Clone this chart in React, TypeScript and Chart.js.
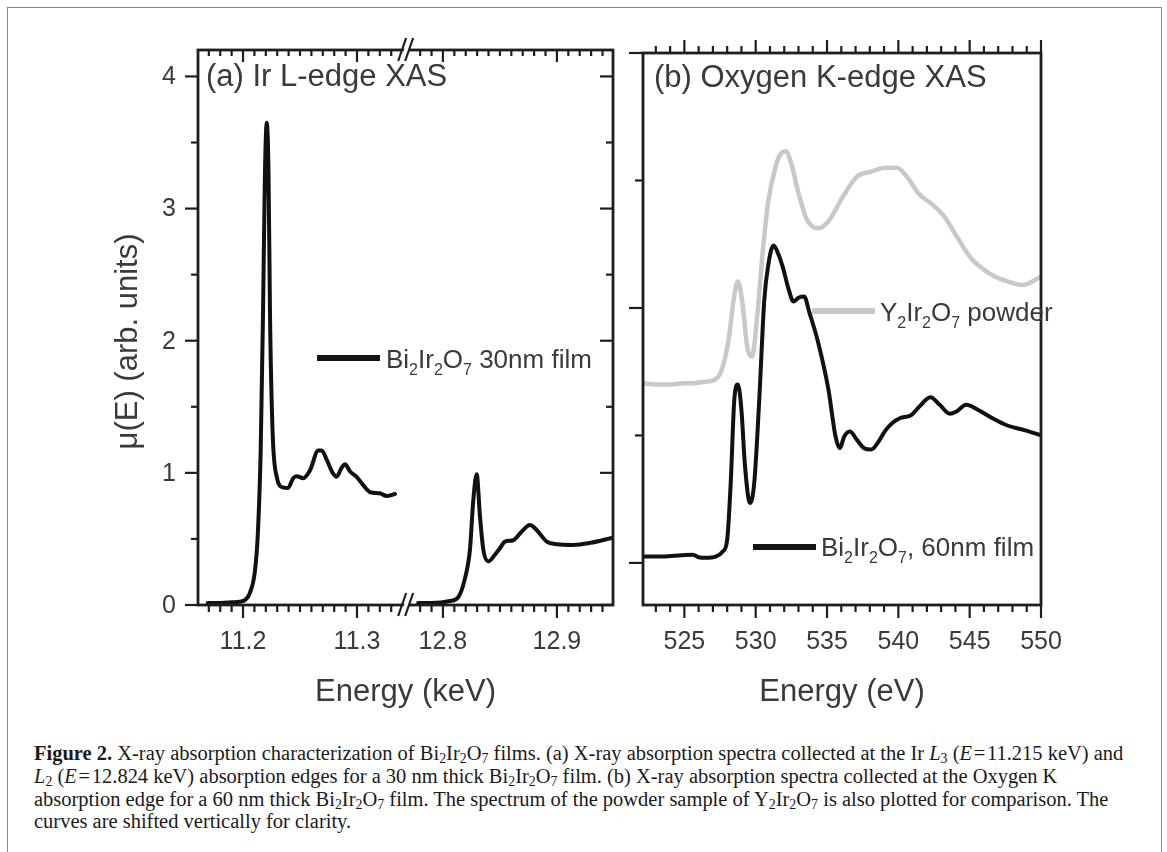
import React, { useEffect, useRef } from 'react';
import { Chart, registerables } from 'chart.js';

Chart.register(...registerables);

// ---------- Data ----------
// Panel (a): Ir L3 edge region (keV) and L2 edge region (keV), Bi2Ir2O7 30nm film
const l3Energy = [11.1690, 11.180, 11.190, 11.197, 11.202, 11.206, 11.2105, 11.213, 11.2155, 11.2175, 11.2192, 11.2208, 11.2224, 11.2237, 11.226, 11.2296, 11.235, 11.2395, 11.244, 11.247, 11.2528, 11.2588, 11.266, 11.269, 11.2734, 11.278, 11.282, 11.2866, 11.2895, 11.294, 11.2997, 11.3056, 11.3114, 11.320, 11.326, 11.3333];
const l3Mu = [0.015, 0.015, 0.02, 0.025, 0.04, 0.09, 0.26, 0.54, 1.17, 2.18, 3.25, 3.65, 3.25, 2.18, 1.30, 0.97, 0.89, 0.885, 0.96, 0.975, 0.96, 1.02, 1.17, 1.17, 1.10, 1.01, 0.97, 1.04, 1.065, 1.01, 0.97, 0.905, 0.855, 0.845, 0.825, 0.84];
const l2Energy = [12.7783, 12.790, 12.806, 12.8135, 12.819, 12.8237, 12.8266, 12.8296, 12.8325, 12.8354, 12.8398, 12.8456, 12.850, 12.8544, 12.8617, 12.869, 12.8763, 12.882, 12.891, 12.8997, 12.914, 12.929, 12.9492];
const l2Mu = [0.015, 0.015, 0.03, 0.06, 0.19, 0.42, 0.79, 0.99, 0.67, 0.42, 0.33, 0.38, 0.43, 0.48, 0.49, 0.555, 0.605, 0.57, 0.48, 0.46, 0.455, 0.47, 0.51];

// Panel (b): Oxygen K edge (eV), arbitrary shifted units
const filmEnergy = [522.1, 523.5, 524.8, 525.6, 526.0, 526.5, 527.2, 527.7, 528.0, 528.25, 528.5, 528.75, 529.0, 529.25, 529.6, 529.9, 530.25, 530.6, 530.9, 531.25, 531.6, 531.9, 532.3, 532.65, 533.0, 533.4, 533.75, 534.4, 535.1, 535.6, 535.9, 536.2, 536.6, 537.1, 537.6, 538.1, 538.6, 539.1, 539.6, 540.1, 540.9, 541.5, 542.25, 542.9, 543.6, 544.1, 544.75, 545.6, 546.6, 547.6, 548.9, 550.0];
const filmMu = [0.05, 0.05, 0.06, 0.065, 0.045, 0.04, 0.05, 0.09, 0.18, 0.63, 1.28, 1.40, 1.20, 0.76, 0.47, 0.63, 1.28, 2.06, 2.35, 2.49, 2.42, 2.32, 2.15, 2.05, 2.08, 2.09, 1.97, 1.72, 1.36, 0.99, 0.90, 0.99, 1.03, 0.965, 0.90, 0.89, 0.95, 1.04, 1.10, 1.135, 1.16, 1.23, 1.30, 1.24, 1.17, 1.19, 1.24, 1.20, 1.135, 1.08, 1.04, 1.0];
const powderEnergy = [522.1, 523.0, 524.1, 525.0, 525.6, 526.3, 527.1, 527.6, 528.1, 528.45, 528.75, 529.1, 529.4, 529.75, 530.1, 530.5, 530.9, 531.4, 531.7, 532.1, 532.5, 533.0, 533.6, 534.4, 535.1, 536.1, 537.1, 538.1, 539.1, 539.9, 540.6, 541.4, 542.4, 543.2, 544.1, 545.1, 546.4, 547.6, 548.7, 550.0];
const powderMu = [1.41, 1.40, 1.40, 1.41, 1.41, 1.42, 1.435, 1.51, 1.75, 2.06, 2.21, 2.01, 1.70, 1.62, 1.93, 2.45, 2.85, 3.11, 3.20, 3.23, 3.13, 2.90, 2.69, 2.625, 2.68, 2.87, 3.03, 3.07, 3.10, 3.10, 3.03, 2.90, 2.81, 2.72, 2.56, 2.39, 2.27, 2.21, 2.18, 2.245];

// Tick labels
const keVTicks = [11.2, 11.3, 12.8, 12.9];
const muTicks = [0, 1, 2, 3, 4];
const eVTicks = [525, 530, 535, 540, 545, 550];

// Broken axis for panel (a)
const BREAK_LO = 11.344;
const BREAK_HI = 12.7686;
const GAP = BREAK_HI - BREAK_LO;
const toAxis = (e: number) => (e > (BREAK_LO + BREAK_HI) / 2 ? e - GAP : e);

const FONT = '"Liberation Sans", Arial, Helvetica, sans-serif';
const TEXT = '#3a3a3a';
const AXIS = '#1e1e1e';

type Part = [string, boolean];
function drawRich(ctx: CanvasRenderingContext2D, parts: Part[], x: number, y: number, size: number) {
  let cx = x;
  ctx.textAlign = 'left';
  ctx.textBaseline = 'alphabetic';
  for (const [t, sub] of parts) {
    ctx.font = `${sub ? Math.round(size * 0.62) : size}px ${FONT}`;
    ctx.fillText(t, cx, sub ? y + size * 0.25 : y);
    cx += ctx.measureText(t).width;
  }
}

function seg(ctx: CanvasRenderingContext2D, x1: number, y1: number, x2: number, y2: number) {
  ctx.beginPath();
  ctx.moveTo(x1, y1);
  ctx.lineTo(x2, y2);
  ctx.stroke();
}

function drawBreak(ctx: CanvasRenderingContext2D, bx: number, y: number) {
  ctx.save();
  ctx.fillStyle = '#ffffff';
  ctx.beginPath();
  ctx.moveTo(bx - 7, y + 11);
  ctx.lineTo(bx + 1, y - 12);
  ctx.lineTo(bx + 6, y - 12);
  ctx.lineTo(bx - 2, y + 11);
  ctx.closePath();
  ctx.fill();
  ctx.strokeStyle = AXIS;
  ctx.lineWidth = 2.2;
  seg(ctx, bx - 9, y + 11, bx - 1, y - 12);
  seg(ctx, bx - 2, y + 11, bx + 6, y - 12);
  ctx.restore();
}

const panelAPlugin = {
  id: 'panelA',
  afterDatasetsDraw(chart: any) {
    const ctx: CanvasRenderingContext2D = chart.ctx;
    const xs = chart.scales.x;
    const ys = chart.scales.y;
    const { left, right, top, bottom } = chart.chartArea;
    ctx.save();
    ctx.strokeStyle = AXIS;
    ctx.lineWidth = 2.8;
    ctx.strokeRect(left, top, right - left, bottom - top);
    ctx.lineWidth = 2.2;
    // x ticks (minor every 0.01 keV, major every 0.1 keV)
    const segs: [number, number][] = [[11.17, 11.33], [12.78, 12.94]];
    for (const [a, b] of segs) {
      const n = Math.round((b - a) / 0.01);
      for (let i = 0; i <= n; i++) {
        const e = a + i * 0.01;
        const major = Math.abs(e * 10 - Math.round(e * 10)) < 1e-6;
        const px = xs.getPixelForValue(toAxis(e));
        seg(ctx, px, bottom, px, bottom + (major ? 13 : 7));
        seg(ctx, px, top, px, top + (major ? 12 : 6));
      }
    }
    // y ticks
    for (let v = 0; v <= 4.0001; v += 0.5) {
      const major = Math.abs(v - Math.round(v)) < 1e-6;
      const py = ys.getPixelForValue(v);
      const len = major ? 13 : 7;
      seg(ctx, left - len, py, left, py);
      seg(ctx, right - len, py, right, py);
    }
    // break marks
    const bx = xs.getPixelForValue(BREAK_LO);
    drawBreak(ctx, bx, top);
    drawBreak(ctx, bx, bottom);

    // tick labels
    ctx.fillStyle = TEXT;
    ctx.font = `25px ${FONT}`;
    ctx.textAlign = 'center';
    ctx.textBaseline = 'alphabetic';
    for (const t of keVTicks) {
      ctx.fillText(t.toFixed(1), xs.getPixelForValue(toAxis(t)), 649);
    }
    ctx.textAlign = 'right';
    ctx.textBaseline = 'middle';
    for (const t of muTicks) {
      ctx.fillText(String(t), left - 22, ys.getPixelForValue(t) + 1);
    }
    // axis titles
    ctx.font = `31px ${FONT}`;
    ctx.textAlign = 'center';
    ctx.textBaseline = 'alphabetic';
    ctx.fillText('Energy (keV)', (left + right) / 2, 701);
    ctx.save();
    ctx.translate(137, (top + bottom) / 2 + 14);
    ctx.rotate(-Math.PI / 2);
    ctx.textBaseline = 'alphabetic';
    ctx.fillText('\u03BC(E) (arb. units)', 0, 0);
    ctx.restore();
    // panel label
    ctx.textAlign = 'left';
    ctx.fillText('(a) Ir L-edge XAS', left + 8, 86);
    // legend
    ctx.strokeStyle = '#141414';
    ctx.lineWidth = 6;
    seg(ctx, 317, 358, 380, 358);
    ctx.fillStyle = TEXT;
    drawRich(ctx, [['Bi', false], ['2', true], ['Ir', false], ['2', true], ['O', false], ['7', true], [' 30nm film', false]], 386, 368, 26);
    ctx.restore();
  },
};

const panelBPlugin = {
  id: 'panelB',
  afterDatasetsDraw(chart: any) {
    const ctx: CanvasRenderingContext2D = chart.ctx;
    const xs = chart.scales.x;
    const ys = chart.scales.y;
    const { left, right, top, bottom } = chart.chartArea;
    ctx.save();
    ctx.strokeStyle = AXIS;
    ctx.lineWidth = 2.8;
    ctx.strokeRect(left, top, right - left, bottom - top);
    ctx.lineWidth = 2.2;
    for (let e = 523; e <= 550; e++) {
      const major = e % 5 === 0;
      const px = xs.getPixelForValue(e);
      const len = major ? 13 : 7;
      seg(ctx, px, bottom, px, bottom + len);
      seg(ctx, px, top, px, top - len);
    }
    for (let v = 0; v <= 4; v++) {
      const major = v % 2 === 0;
      const py = ys.getPixelForValue(v);
      seg(ctx, left - (major ? 14 : 8), py, left, py);
    }
    ctx.fillStyle = TEXT;
    ctx.font = `25px ${FONT}`;
    ctx.textAlign = 'center';
    ctx.textBaseline = 'alphabetic';
    for (const t of eVTicks) {
      ctx.fillText(String(t), xs.getPixelForValue(t), 649);
    }
    ctx.font = `31px ${FONT}`;
    ctx.fillText('Energy (eV)', (left + right) / 2, 701);
    ctx.textAlign = 'left';
    ctx.fillText('(b) Oxygen K-edge XAS', left + 11, 87);
    // legends (canvas B is offset by 620px)
    const ox = 620;
    ctx.lineWidth = 6;
    ctx.strokeStyle = '#c8c8c8';
    seg(ctx, 812 - ox, 311, 875 - ox, 311);
    ctx.fillStyle = TEXT;
    drawRich(ctx, [['Y', false], ['2', true], ['Ir', false], ['2', true], ['O', false], ['7', true], [' powder', false]], 880 - ox, 321, 26);
    ctx.strokeStyle = '#141414';
    seg(ctx, 753 - ox, 547, 816 - ox, 547);
    drawRich(ctx, [['Bi', false], ['2', true], ['Ir', false], ['2', true], ['O', false], ['7', true], [', 60nm film', false]], 821 - ox, 556, 26);
    ctx.restore();
  },
};

const baseOptions = (pad: any, xmin: number, xmax: number, ymin: number, ymax: number) => ({
  animation: false as const,
  responsive: false,
  devicePixelRatio: 1,
  events: [] as any[],
  layout: { padding: pad },
  plugins: { legend: { display: false }, tooltip: { enabled: false }, title: { display: false } },
  scales: {
    x: { type: 'linear' as const, display: false, min: xmin, max: xmax },
    y: { type: 'linear' as const, display: false, min: ymin, max: ymax },
  },
});

const lineDs = (pts: { x: number; y: number }[], color: string, width: number) => ({
  data: pts,
  borderColor: color,
  borderWidth: width,
  pointRadius: 0,
  fill: false,
  cubicInterpolationMode: 'monotone' as const,
  borderJoinStyle: 'round' as const,
  borderCapStyle: 'round' as const,
});

export default function App() {
  const refA = useRef<HTMLCanvasElement>(null);
  const refB = useRef<HTMLCanvasElement>(null);
  const capRef = useRef<HTMLDivElement>(null);
  const line1Ref = useRef<HTMLDivElement>(null);

  useEffect(() => {
    const l3Pts = l3Energy.map((e, i) => ({ x: toAxis(e), y: l3Mu[i] }));
    const l2Pts = l2Energy.map((e, i) => ({ x: toAxis(e), y: l2Mu[i] }));
    const chartA = new Chart(refA.current as HTMLCanvasElement, {
      type: 'line',
      data: { datasets: [lineDs(l3Pts, '#111111', 4), lineDs(l2Pts, '#111111', 4)] as any },
      options: baseOptions({ left: 198, top: 50, right: 17, bottom: 115 }, 11.1605, toAxis(12.9492), 0, 4.2) as any,
      plugins: [panelAPlugin],
    });
    const filmPts = filmEnergy.map((e, i) => ({ x: e, y: filmMu[i] }));
    const powderPts = powderEnergy.map((e, i) => ({ x: e, y: powderMu[i] }));
    const chartB = new Chart(refB.current as HTMLCanvasElement, {
      type: 'line',
      data: { datasets: [lineDs(powderPts, '#c8c8c8', 4.5), lineDs(filmPts, '#111111', 4)] as any },
      options: baseOptions({ left: 23, top: 53, right: 126, bottom: 115 }, 522.1, 550, -0.33, 4) as any,
      plugins: [panelBPlugin],
    });
    // fit caption width to the reference
    if (capRef.current && line1Ref.current) {
      const w = line1Ref.current.scrollWidth;
      const s = 1089 / w;
      capRef.current.style.transform = `scaleX(${s})`;
    }
    return () => {
      chartA.destroy();
      chartB.destroy();
    };
  }, []);

  const serif = '"Liberation Serif", "Times New Roman", serif';
  const sub = (t: string) => <sub style={{ fontSize: '0.68em', verticalAlign: '-0.25em', lineHeight: 0 }}>{t}</sub>;
  const chem = (a: string) => (
    <span>
      {a}
      {sub('2')}Ir{sub('2')}O{sub('7')}
    </span>
  );
  const lineStyle: React.CSSProperties = { whiteSpace: 'nowrap', height: 22.5, lineHeight: '22.5px' };

  return (
    <div style={{ position: 'fixed', left: 0, top: 0, width: 1167, height: 852, background: '#fff', overflow: 'hidden' }}>
      <div style={{ position: 'absolute', left: 7, top: 7, width: 1155, height: 900, border: '1.5px solid #8a8a8a', boxSizing: 'border-box' }} />
      <canvas ref={refA} width={630} height={720} style={{ position: 'absolute', left: 0, top: 0, width: 630, height: 720 }} />
      <canvas ref={refB} width={547} height={720} style={{ position: 'absolute', left: 620, top: 0, width: 547, height: 720 }} />
      <div
        ref={capRef}
        style={{ position: 'absolute', left: 34, top: 742, fontFamily: serif, fontSize: 20.5, color: '#1a1a1a', transformOrigin: '0 0' }}
      >
        <div ref={line1Ref} style={{ ...lineStyle, display: 'inline-block' }}>
          <b>Figure 2.</b> X-ray absorption characterization of {chem('Bi')} films. (a) X-ray absorption spectra collected at the Ir <i>L</i>
          {sub('3')} (<i>E</i>&#8202;=&#8202;11.215 keV) and
        </div>
        <div style={lineStyle}>
          <i>L</i>
          {sub('2')} (<i>E</i>&#8202;=&#8202;12.824 keV) absorption edges for a 30 nm thick {chem('Bi')} film. (b) X-ray absorption spectra collected at the Oxygen K
        </div>
        <div style={lineStyle}>
          absorption edge for a 60 nm thick {chem('Bi')} film. The spectrum of the powder sample of {chem('Y')} is also plotted for comparison. The
        </div>
        <div style={lineStyle}>curves are shifted vertically for clarity.</div>
      </div>
    </div>
  );
}
